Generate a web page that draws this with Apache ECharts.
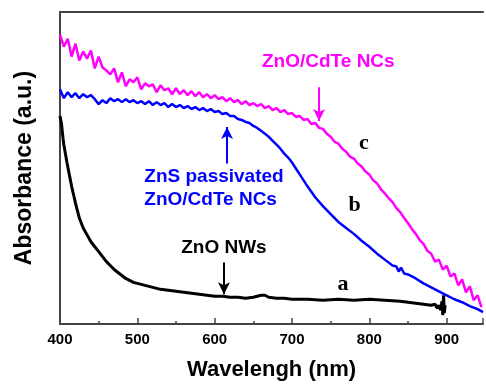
<!DOCTYPE html>
<html>
<head>
<meta charset="utf-8">
<script src="https://cdn.jsdelivr.net/npm/echarts@6/dist/echarts.min.js"></script>
<style>
  html, body { margin: 0; padding: 0; background: #fff; }
  #chart { width: 486px; height: 386px; }
</style>
</head>
<body>
<div id="chart"></div>
<script>
// wavelength (nm) and absorbance (a.u.)
const wlC = [400,405,410,415,420,425,430,435,440,445,450,455,460,465,470,475,480,485,490,495,
  500,505,510,515,520,525,530,535,540,545,550,555,560,565,570,575,580,585,590,595,
  600,605,610,615,620,625,630,635,640,645,650,655,660,665,670,675,680,685,690,695,
  700,705,710,715,720,725,730,735,740,745,750,755,760,765,770,775,780,785,790,795,
  800,805,810,815,820,825,830,835,840,845,850,855,860,865,870,875,880,885,890,895,
  900,905,910,915,920,925,930,935,940,945];
const absC = [292,280,288,270,283,266,275,268,276,258,270,259,256,252,258,244,254,240,247,244,
  249,237,243,240,242,234,241,236,238,232,238,232,236,231,235,230,234,229,232,228,
  231,227,229,225,228,224,226,222,225,221,223,220,222,218,220,216,218,214,216,212,
  213,209,210,206,207,202,203,198,197,192,189,184,182,177,174,169,167,162,159,154,
  151,145,142,136,132,127,123,117,113,107,102,96,91,85,81,74,71,63,65,55,
  59,48,51,39,45,32,38,24,29,17];

const wlB = [400,405,410,415,420,425,430,435,440,445,450,455,460,465,470,475,480,485,490,495,
  500,505,510,515,520,525,530,535,540,545,550,555,560,565,570,575,580,585,590,595,
  600,605,610,615,620,625,630,635,640,645,650,655,660,665,670,675,680,685,690,695,
  700,705,710,715,720,730,740,750,760,770,780,790,800,810,820,830,835,838,841,845,
  850,860,870,880,890,900,910,920,930,940,947];
const absB = [237,228,234,229,233,228,232,229,231,227,222,226,223,228,225,227,224,227,224,226,
  223,225,222,225,221,224,221,223,219,222,219,221,218,220,217,219,216,218,215,217,
  214,215,212,213,210,210,207,206,204,203,200,198,195,192,189,185,181,177,172,168,
  163,157,151,145,139,128,119,111,103,97,91,84,78,71,65,59,58,53,57,51,
  50,46,41,37,33,29,25,22,18,15,12];

const wlA = [400,402,403,404,405,407,409,411,413,415,418,420,423,425,428,430,435,440,445,450,
  455,460,465,470,475,480,485,490,495,500,510,520,530,540,550,560,570,580,590,600,
  610,620,630,640,650,660,665,670,680,690,700,720,740,760,780,800,820,840,850,860,
  870,880,885,888,890,892,894,895,896,897,898];
const absA = [210,202,194,187,181,172,163,155,147,139,129,122,113,107,101,97,90,83,78,73,
  68,63,59,55,52,49,46,44,42,41,39,37,35,34,33,32,31,30,29,28,
  28,27,27,26,27,29,29,27,26,26,25,25,24,25,24,25,24,23,22,21,
  20,19,20,16,19,14,23,9,29,11,19];

const xTicks = [400, 500, 600, 700, 800, 900];

const pair = (xs, ys) => xs.map((x, i) => [x, ys[i]]);

const arrow = (color, x, y0, y1) => ({
  silent: true,
  symbol: ['none', 'arrow'],
  symbolSize: [9, 12],
  lineStyle: { color: color, width: 2, type: 'solid' },
  label: { show: false },
  data: [[{ coord: [x, y0] }, { coord: [x, y1] }]]
});

let myChart = echarts.init(document.getElementById('chart'));
const option = {
  animation: false,
  backgroundColor: '#fff',
  grid: { left: 60, right: 0, top: 12, bottom: 59 },
  xAxis: [
    {
      type: 'value',
      min: 400,
      max: 947,
      interval: 100,
      name: 'Wavelengh (nm)',
      nameLocation: 'middle',
      nameGap: 35,
      nameTextStyle: { fontFamily: 'Liberation Sans', fontWeight: 'bold', fontSize: 22, color: '#000' },
      axisLine: { lineStyle: { color: '#444', width: 2 } },
      axisTick: { inside: true, length: 6, lineStyle: { color: '#444', width: 1.5 } },
      minorTick: { show: true, splitNumber: 2, length: 3, lineStyle: { color: '#444', width: 1.5 } },
      axisLabel: {
        fontFamily: 'Liberation Sans', fontWeight: 'bold', fontSize: 15, color: '#000', margin: 8,
        formatter: v => xTicks.includes(v) ? String(v) : ''
      },
      splitLine: { show: false }
    },
    {
      type: 'value',
      position: 'top',
      min: 400,
      max: 947,
      axisLine: { lineStyle: { color: '#444', width: 2 } },
      axisTick: { show: false },
      axisLabel: { show: false },
      splitLine: { show: false }
    }
  ],
  yAxis: {
    type: 'value',
    min: 0,
    max: 315,
    name: 'Absorbance (a.u.)',
    nameLocation: 'middle',
    nameGap: 24,
    nameTextStyle: { fontFamily: 'Liberation Sans', fontWeight: 'bold', fontSize: 23, color: '#000' },
    axisLine: { show: true, lineStyle: { color: '#444', width: 2 } },
    axisTick: { show: false },
    axisLabel: { show: false },
    splitLine: { show: false }
  },
  series: [
    {
      name: 'a',
      type: 'line',
      showSymbol: false,
      lineStyle: { color: '#000', width: 3 },
      data: pair(wlA, absA),
      markLine: arrow('#000', 612, 62, 30)
    },
    {
      name: 'b',
      type: 'line',
      showSymbol: false,
      lineStyle: { color: '#0000ff', width: 2.5 },
      data: pair(wlB, absB),
      markLine: arrow('#0000ff', 616, 162, 199)
    },
    {
      name: 'c',
      type: 'line',
      showSymbol: false,
      lineStyle: { color: '#ff00ff', width: 2.5 },
      data: pair(wlC, absC),
      markLine: arrow('#ff00ff', 735, 239, 205)
    }
  ]
};
myChart.setOption(option);

// text labels, anchored in data coordinates
const notes = [
  { text: 'ZnO/CdTe NCs', at: [747, 265], color: '#ff00ff', align: 'center', font: 'bold 19px "Liberation Sans"' },
  { text: 'ZnS passivated', at: [509, 149], color: '#0000ff', align: 'left', font: 'bold 19px "Liberation Sans"' },
  { text: 'ZnO/CdTe NCs', at: [509, 125], color: '#0000ff', align: 'left', font: 'bold 19px "Liberation Sans"' },
  { text: 'ZnO NWs', at: [612, 77], color: '#000', align: 'center', font: 'bold 19px "Liberation Sans"' },
  { text: 'c', at: [793, 182], color: '#000', align: 'center', font: 'bold 22px "Liberation Serif"' },
  { text: 'b', at: [781, 120], color: '#000', align: 'center', font: 'bold 22px "Liberation Serif"' },
  { text: 'a', at: [766, 40], color: '#000', align: 'center', font: 'bold 22px "Liberation Serif"' }
];
myChart.setOption({
  graphic: notes.map(n => {
    const p = myChart.convertToPixel({ xAxisIndex: 0, yAxisIndex: 0 }, n.at);
    return {
      type: 'text',
      x: p[0],
      y: p[1],
      style: { text: n.text, fill: n.color, font: n.font, textAlign: n.align, textVerticalAlign: 'middle' }
    };
  })
});
</script>
</body>
</html>
